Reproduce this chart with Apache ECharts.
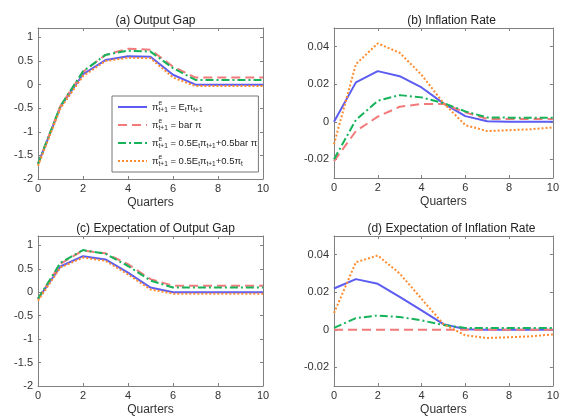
<!DOCTYPE html>
<html>
<head>
<meta charset="utf-8">
<script src="https://cdn.jsdelivr.net/npm/echarts@6/dist/echarts.min.js"></script>
<style>
html, body { margin: 0; background: #fff; }
#chart { width: 562px; height: 417px; }
</style>
</head>
<body>
<div id="chart"></div>
<script>
// quarters on the x axis
const quarters = [0, 1, 2, 3, 4, 5, 6, 7, 8, 9, 10];

const seriesNames = [
	'π^e_{t+1} = E_tπ_{t+1}',
	'π^e_{t+1} = barπ',
	'π^e_{t+1} = 0.5E_tπ_{t+1}+0.5barπ',
	'π^e_{t+1} = 0.5E_tπ_{t+1}+0.5π_t'
];
const legendRich = [
	'{m|π}{sp|e}{sb|t+1}{m| = E}{sb|t}{m|π}{sb|t+1}',
	'{m|π}{sp|e}{sb|t+1}{m| = bar π}',
	'{m|π}{sp|e}{sb|t+1}{m| = 0.5E}{sb|t}{m|π}{sb|t+1}{m|+0.5bar π}',
	'{m|π}{sp|e}{sb|t+1}{m| = 0.5E}{sb|t}{m|π}{sb|t+1}{m|+0.5π}{sb|t}'
];
const panelTitles = ['(a) Output Gap', '(b) Inflation Rate', '(c) Expectation of Output Gap', '(d) Expectation of Inflation Rate'];

// (a) output gap
const gapRational = [-1.68, -0.47, 0.22, 0.52, 0.60, 0.59, 0.21, 0, 0, 0, 0];
const gapFixed = [-1.68, -0.45, 0.27, 0.63, 0.76, 0.74, 0.38, 0.15, 0.15, 0.15, 0.15];
const gapMixFixed = [-1.68, -0.45, 0.28, 0.63, 0.72, 0.70, 0.35, 0.10, 0.10, 0.10, 0.10];
const gapMixLag = [-1.72, -0.50, 0.18, 0.50, 0.57, 0.56, 0.15, -0.03, -0.03, -0.03, -0.03];

// (b) inflation rate
const infRational = [0, 0.021, 0.027, 0.0243, 0.0183, 0.0098, 0.003, 0.0003, 0, 0, 0];
const infFixed = [-0.021, -0.005, 0.0027, 0.008, 0.0095, 0.0095, 0.005, 0.0015, 0.0015, 0.0015, 0.0015];
const infMixFixed = [-0.02, 0.001, 0.0112, 0.0142, 0.013, 0.01, 0.0055, 0.0023, 0.0022, 0.0022, 0.0022];
const infMixLag = [-0.012, 0.0307, 0.0418, 0.0368, 0.025, 0.01, -0.0018, -0.005, -0.0045, -0.004, -0.003];

// (c) expectation of output gap
const egapRational = [-0.14, 0.55, 0.77, 0.70, 0.42, 0.10, 0, 0, 0, 0, 0];
const egapFixed = [-0.14, 0.61, 0.89, 0.83, 0.60, 0.28, 0.14, 0.14, 0.14, 0.14, 0.14];
const egapMixFixed = [-0.14, 0.63, 0.90, 0.82, 0.56, 0.25, 0.10, 0.10, 0.10, 0.10, 0.10];
const egapMixLag = [-0.18, 0.53, 0.74, 0.67, 0.38, 0.06, -0.03, -0.03, -0.03, -0.03, -0.03];

// (d) expectation of inflation rate
const einfRational = [0.022, 0.027, 0.0245, 0.0175, 0.0103, 0.003, 0.0003, 0, 0, 0, 0];
const einfFixed = [0, 0, 0, 0, 0, 0, 0, 0, 0, 0, 0];
const einfMixFixed = [0.001, 0.0062, 0.0076, 0.0068, 0.005, 0.0025, 0.001, 0.001, 0.001, 0.001, 0.001];
const einfMixLag = [0.0089, 0.036, 0.0396, 0.030, 0.0165, 0.003, -0.003, -0.0044, -0.004, -0.0035, -0.0025];

const panels = [
	[gapRational, gapFixed, gapMixFixed, gapMixLag],
	[infRational, infFixed, infMixFixed, infMixLag],
	[egapRational, egapFixed, egapMixFixed, egapMixLag],
	[einfRational, einfFixed, einfMixFixed, einfMixLag]
];

const lineStyles = [
	{ color: '#5c5cf2', type: 'solid' },
	{ color: '#f27a7a', type: [9, 5] },
	{ color: '#16b35a', type: [8, 3, 2, 3] },
	{ color: '#ff8c2e', type: [2, 2] }
];

const grids = [
	{ left: 38, top: 28, width: 225, height: 151 },
	{ left: 334, top: 28, width: 225, height: 150 },
	{ left: 38, top: 236, width: 225, height: 151 },
	{ left: 334, top: 236, width: 225, height: 150 }
];

const axisColor = '#808080';
const labelColor = '#333';

function yRange(i) {
	if (i % 2 === 0) {
		return { min: -2, max: 1.2, interval: 0.5, showMin: true };
	}
	return { min: -0.03, max: 0.05, splitNumber: 4, showMin: false };
}

const xAxes = [];
const yAxes = [];
const titles = [];
const series = [];

grids.forEach(function (g, i) {
	titles.push({
		text: panelTitles[i],
		left: g.left + g.width / 2,
		top: i < 2 ? 10 : 218,
		textAlign: 'center',
		textStyle: { fontSize: 12, fontWeight: 'normal', color: '#222', fontFamily: 'Liberation Sans' }
	});
	['bottom', 'top'].forEach(function (pos) {
		xAxes.push({
			type: 'value',
			gridIndex: i,
			position: pos,
			min: 0,
			max: 10,
			interval: 2,
			name: pos === 'bottom' ? 'Quarters' : '',
			nameLocation: 'middle',
			nameGap: 18,
			nameTextStyle: { fontSize: 12, color: labelColor, fontFamily: 'Liberation Sans' },
			axisLine: { show: true, onZero: false, lineStyle: { color: axisColor, width: 1 } },
			axisTick: { show: true, inside: true, length: 3, lineStyle: { color: axisColor } },
			axisLabel: { show: pos === 'bottom', margin: 4, fontSize: 11, color: labelColor, fontFamily: 'Liberation Sans' },
			splitLine: { show: false }
		});
	});
	const r = yRange(i);
	['left', 'right'].forEach(function (pos) {
		yAxes.push({
			type: 'value',
			gridIndex: i,
			position: pos,
			min: r.min,
			max: r.max,
			interval: r.interval,
			splitNumber: r.splitNumber,
			axisLine: { show: true, onZero: false, lineStyle: { color: axisColor, width: 1 } },
			axisTick: { show: true, inside: true, length: 3, lineStyle: { color: axisColor } },
			axisLabel: {
				show: pos === 'left',
				margin: 5,
				fontSize: 11,
				color: labelColor,
				fontFamily: 'Liberation Sans',
				showMinLabel: r.showMin,
				showMaxLabel: false
			},
			splitLine: { show: false }
		});
	});
	panels[i].forEach(function (vals, k) {
		series.push({
			name: seriesNames[k],
			type: 'line',
			xAxisIndex: i * 2,
			yAxisIndex: i * 2,
			symbol: 'none',
			lineStyle: { width: 2, color: lineStyles[k].color, type: lineStyles[k].type },
			itemStyle: { color: lineStyles[k].color },
			data: quarters.map(function (q, j) { return [q, vals[j]]; })
		});
	});
});

const chart = echarts.init(document.getElementById('chart'));
chart.setOption({
	animation: false,
	backgroundColor: '#fff',
	textStyle: { fontFamily: 'Liberation Sans' },
	title: titles,
	legend: {
		data: seriesNames,
		left: 112,
		top: 96,
		orient: 'vertical',
		itemWidth: 29,
		itemHeight: 10,
		itemGap: 4,
		padding: [4, 1, 4, 5],
		borderColor: '#777',
		borderWidth: 1,
		backgroundColor: '#fff',
		itemStyle: { opacity: 0 },
		formatter: function (name) {
			return legendRich[seriesNames.indexOf(name)];
		},
		textStyle: {
			color: '#222',
			rich: {
				m: { fontSize: 9.5, lineHeight: 14, color: '#222', fontFamily: 'Liberation Sans' },
				sp: { fontSize: 6.5, lineHeight: 7, verticalAlign: 'top', width: 0, color: '#222', fontFamily: 'Liberation Sans' },
				sb: { fontSize: 6.5, lineHeight: 7, verticalAlign: 'bottom', color: '#222', fontFamily: 'Liberation Sans' }
			}
		}
	},
	grid: grids,
	xAxis: xAxes,
	yAxis: yAxes,
	series: series
});
</script>
</body>
</html>
